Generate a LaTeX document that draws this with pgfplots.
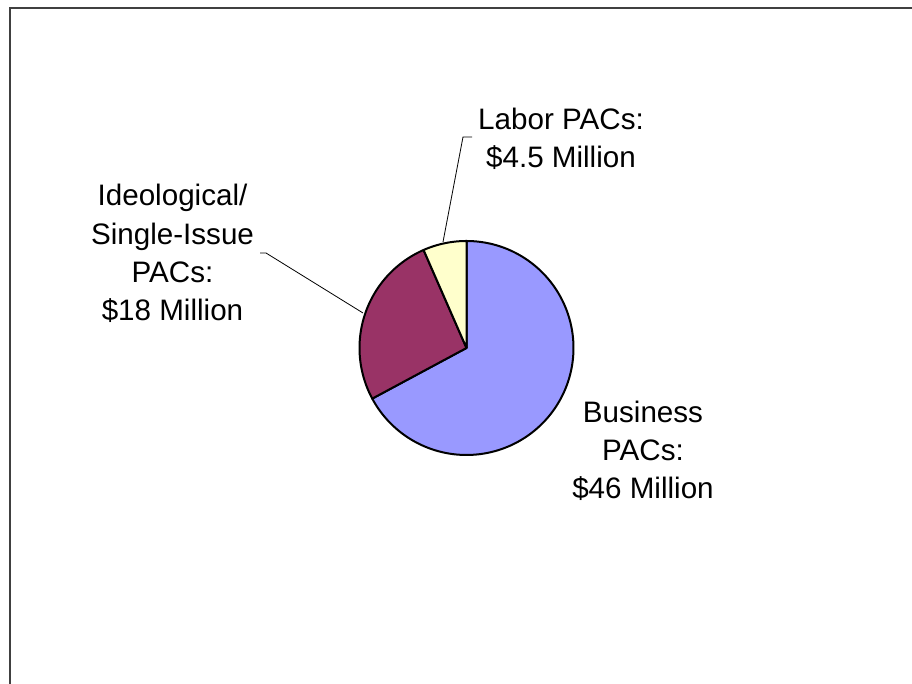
\documentclass[border=0pt]{standalone}
\usepackage{pgfplots}
\pgfplotsset{compat=1.18}
\usepackage{fontspec}
\setmainfont{Liberation Sans}
\definecolor{bus}{HTML}{9999FF}
\definecolor{ideo}{HTML}{993366}
\definecolor{lab}{HTML}{FFFFCC}
\definecolor{framec}{HTML}{404040}
\begin{document}
\begin{tikzpicture}
\pgfmathsetmacro{\vB}{46}
\pgfmathsetmacro{\vI}{18}
\pgfmathsetmacro{\vL}{4.5}
\pgfmathsetmacro{\tot}{\vB+\vI+\vL}
\pgfmathsetmacro{\aA}{90}
\pgfmathsetmacro{\aB}{90-360*(\vB/\tot)}
\pgfmathsetmacro{\aC}{\aB-360*(\vI/\tot)}
\pgfmathsetmacro{\aD}{\aC-360*(\vL/\tot)}
\begin{axis}[width=456pt,height=342pt,scale only axis,xmin=0,xmax=912,ymin=0,ymax=684,hide axis,clip=false]
\addplot[draw=black,line width=1pt,line join=round,fill=bus,domain=\aB:\aA,samples=150] ({466.5+107*cos(x)},{336+107*sin(x)}) -- (axis cs:466.5,336) -- cycle;
\addplot[draw=black,line width=1pt,line join=round,fill=ideo,domain=\aC:\aB,samples=80] ({466.5+107*cos(x)},{336+107*sin(x)}) -- (axis cs:466.5,336) -- cycle;
\addplot[draw=black,line width=1pt,line join=round,fill=lab,domain=\aD:\aC,samples=30] ({466.5+107*cos(x)},{336+107*sin(x)}) -- (axis cs:466.5,336) -- cycle;
\draw[black,line width=0.4pt] (axis cs:472,547) -- (axis cs:463,547) -- (axis cs:443,442);
\draw[black,line width=0.4pt] (axis cs:260,431) -- (axis cs:266,431) -- (axis cs:363,371);
\draw[framec,line width=1pt] (axis cs:9.5,0) -- (axis cs:9.5,675.5) -- (axis cs:912,675.5);
\node[align=center,font=\fontsize{14.8}{19.3}\selectfont] at (axis cs:561,545) {Labor PACs:\\\$4.5 Million};
\node[align=center,font=\fontsize{14.8}{19.1}\selectfont] at (axis cs:172.5,430.5) {Ideological/\\Single-Issue\\PACs:\\\$18 Million};
\node[align=center,font=\fontsize{14.8}{19.1}\selectfont] at (axis cs:643,233) {Business\\PACs:\\\$46 Million};
\end{axis}
\pgfresetboundingbox
\path (current axis.south west) rectangle (current axis.north east);
\end{tikzpicture}
\end{document}
